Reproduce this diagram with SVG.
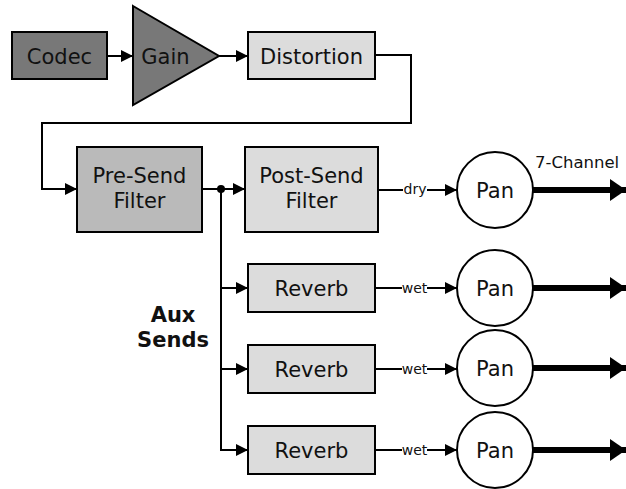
<svg xmlns="http://www.w3.org/2000/svg" width="626" height="489" viewBox="0 0 626 489">
<defs>
<style>
.box{stroke:#000;stroke-width:2}
.dark{fill:#787878}
.mid{fill:#bababa}
.light{fill:#dcdcdc}
.pan{fill:#fff;stroke:#000;stroke-width:2}
.t{font-family:"DejaVu Sans","Liberation Sans",sans-serif;font-size:21px;fill:#111;text-anchor:middle}
.b{font-weight:bold}
.lbl{font-family:"DejaVu Sans","Liberation Sans",sans-serif;font-size:14px;fill:#111;text-anchor:middle}
.bg{fill:#fff}
.ch{font-family:"DejaVu Sans","Liberation Sans",sans-serif;font-size:16.5px;fill:#111}
.c{fill:none;stroke:#000;stroke-width:2}
.thick{fill:none;stroke:#000;stroke-width:6}
</style>
<marker id="arr" markerUnits="userSpaceOnUse" markerWidth="12" markerHeight="12" refX="12" refY="6" orient="auto">
<path d="M0,0 L12,6 L0,12 z" fill="#000"/>
</marker>
<marker id="big" markerUnits="userSpaceOnUse" markerWidth="16" markerHeight="22" refX="16" refY="11" orient="auto">
<path d="M0,0 L16,11 L0,22 z" fill="#000"/>
</marker>
</defs>
<g id="connectors">
<path class="c" d="M107,56 H133" marker-end="url(#arr)"/>
<path class="c" d="M219,56 H248" marker-end="url(#arr)"/>
<path class="c" d="M375,55 H411 V123 H42 V189 H77" marker-end="url(#arr)"/>
<path class="c" d="M202,189 H245" marker-end="url(#arr)"/>
<circle cx="221" cy="189" r="4" fill="#000"/>
<path class="c" d="M221,189 V450 H248" marker-end="url(#arr)"/>
<path class="c" d="M221,288 H248" marker-end="url(#arr)"/>
<path class="c" d="M221,369 H248" marker-end="url(#arr)"/>
<path class="c" d="M378,190 H457" marker-end="url(#arr)"/>
<path class="c" d="M375,288 H457" marker-end="url(#arr)"/>
<path class="c" d="M375,369 H457" marker-end="url(#arr)"/>
<path class="c" d="M375,450 H457" marker-end="url(#arr)"/>
<rect class="bg" x="403" y="183" width="24" height="14"/>
<text class="lbl" x="415" y="194">dry</text>
<rect class="bg" x="402" y="281" width="25" height="14"/>
<text class="lbl" x="414.5" y="292.5">wet</text>
<rect class="bg" x="402" y="362" width="25" height="14"/>
<text class="lbl" x="414.5" y="373.5">wet</text>
<rect class="bg" x="402" y="443" width="25" height="14"/>
<text class="lbl" x="414.5" y="454.5">wet</text>
<path class="thick" d="M533,190 H626" marker-end="url(#big)"/>
<path class="thick" d="M533,288 H626" marker-end="url(#big)"/>
<path class="thick" d="M533,368 H626" marker-end="url(#big)"/>
<path class="thick" d="M533,450 H626" marker-end="url(#big)"/>
<text class="ch" x="535" y="168">7-Channel</text>
</g>
<g id="codec"><rect class="box dark" x="12" y="32" width="95" height="47"/><text class="t" x="59.5" y="63.5">Codec</text></g>
<g id="gain"><polygon class="box dark" points="133,6 219,56 133,105"/><text class="t" x="165.5" y="63.5">Gain</text></g>
<g id="distortion"><rect class="box light" x="248" y="32" width="127" height="47"/><text class="t" x="311.5" y="63.5">Distortion</text></g>
<g id="presend"><rect class="box mid" x="77" y="147" width="125" height="85"/><text class="t" x="139.5" y="183">Pre-Send</text><text class="t" x="139.5" y="208">Filter</text></g>
<g id="postsend"><rect class="box light" x="245" y="147" width="133" height="85"/><text class="t" x="311.5" y="183">Post-Send</text><text class="t" x="311.5" y="208">Filter</text></g>
<g id="reverb1"><rect class="box light" x="248" y="264" width="127" height="48"/><text class="t" x="311.5" y="295.5">Reverb</text></g>
<g id="reverb2"><rect class="box light" x="248" y="345" width="127" height="48"/><text class="t" x="311.5" y="376.5">Reverb</text></g>
<g id="reverb3"><rect class="box light" x="248" y="426" width="127" height="48"/><text class="t" x="311.5" y="457.5">Reverb</text></g>
<g id="pan1"><circle class="pan" cx="495" cy="190" r="38"/><text class="t" x="495" y="197.5">Pan</text></g>
<g id="pan2"><circle class="pan" cx="495" cy="288" r="38"/><text class="t" x="495" y="295.5">Pan</text></g>
<g id="pan3"><circle class="pan" cx="495" cy="368" r="38"/><text class="t" x="495" y="375.5">Pan</text></g>
<g id="pan4"><circle class="pan" cx="495" cy="450" r="38"/><text class="t" x="495" y="457.5">Pan</text></g>
<g id="auxsends"><text class="t b" x="173" y="322">Aux</text><text class="t b" x="173" y="347">Sends</text></g>
</svg>
